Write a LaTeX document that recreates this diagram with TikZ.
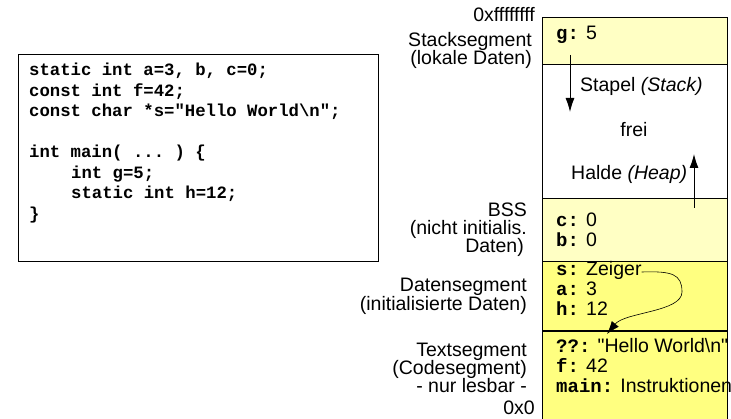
\documentclass[tikz,border=0pt]{standalone}
\usepackage{fontspec}
\setmainfont{Liberation Sans}
\setmonofont{Liberation Mono}
\usetikzlibrary{arrows.meta}
\definecolor{lightyel}{RGB}{255,255,196}
\definecolor{yel}{RGB}{255,255,128}
\newcommand{\cmono}[1]{{\ttfamily\bfseries\fontsize{19}{19}\selectfont #1}}
\begin{document}
\begin{tikzpicture}[x=1pt,y=-1pt,
  lbl/.style={anchor=base east, inner sep=0pt, font=\fontsize{19.5}{19.5}\selectfont},
  cell/.style={anchor=base west, inner sep=0pt, font=\fontsize{19.5}{19.5}\selectfont},
  codeline/.style={anchor=base west, inner sep=0pt, font=\ttfamily\bfseries\fontsize{17.3}{17.3}\selectfont},
  thinline/.style={line width=0.9pt},
  thickline/.style={line width=1.8pt},
  bigarrow/.style={line width=0.9pt, -{Latex[length=14pt,width=9pt]}}]
\useasboundingbox (0,0) rectangle (731,419);
% code box
\node[draw, line width=1pt, minimum width=360pt, minimum height=207pt, inner sep=0pt] (codebox) at (198,158.5) {};
\node[codeline] (code1) at (29,76) {static int a=3, b, c=0;};
\node[codeline] (code2) at (29,96.5) {const int f=42;};
\node[codeline] (code3) at (29,117) {const char *s=\textquotedbl Hello World\textbackslash n\textquotedbl;};
\node[codeline] (code5) at (29,158) {int main( ... ) \{};
\node[codeline] (code6) at (71,178.5) {int g=5;};
\node[codeline] (code7) at (71,199) {static int h=12;};
\node[codeline] (code8) at (29,219.5) {\}};
% memory column
\fill[lightyel] (542,17) rectangle (727,64);
\fill[lightyel] (542,198) rectangle (727,261);
\fill[yel] (542,261) rectangle (727,419);
\draw[thinline] (542,419) -- (542,17) -- (727,17) -- (727,419);
\draw[thinline] (542,64) -- (727,64);
\draw[thinline] (542,198) -- (727,198);
\draw[thinline] (542,261) -- (727,261);
\draw[thickline] (542,331) -- (727,331);
% left labels
\node[lbl] (top) at (535,22) {0xffffffff};
\node[lbl] (st1) at (532,47) {Stacksegment};
\node[lbl] (st2) at (532,65) {(lokale Daten)};
\node[lbl] (bss1) at (527,217) {BSS};
\node[lbl] (bss2) at (527,235) {(nicht initialis.};
\node[lbl] (bss3) at (524,253) {Daten)};
\node[lbl] (ds1) at (527,292) {Datensegment};
\node[lbl] (ds2) at (527,311) {(initialisierte Daten)};
\node[lbl] (ts1) at (527,357) {Textsegment};
\node[lbl] (ts2) at (527,375) {(Codesegment)};
\node[lbl] (ts3) at (527,393) {- nur lesbar -};
\node[lbl] (bot) at (535,415) {0x0};
% cells
\node[cell] (g) at (556,40) {\cmono{g:} 5};
\node[cell] (stapel) at (580,92) {Stapel \textit{(Stack)}};
\node[cell, anchor=base] (frei) at (634,137) {frei};
\node[cell] (halde) at (571,180) {Halde \textit{(Heap)}};
\node[cell] (c) at (556,227) {\cmono{c:} 0};
\node[cell] (b) at (556,247) {\cmono{b:} 0};
\node[cell] (s) at (556,276) {\cmono{s:} Zeiger};
\node[cell] (a) at (556,296) {\cmono{a:} 3};
\node[cell] (h) at (556,316) {\cmono{h:} 12};
\node[cell] (hello) at (556,353) {\cmono{??:} \textquotedbl Hello World\textbackslash n\textquotedbl};
\node[cell] (f) at (556,373) {\cmono{f:} 42};
\node[cell] (main) at (556,393) {\cmono{main:} Instruktionen};
% arrows
\coordinate (dstart) at (570,55);
\coordinate (dend) at (570,112);
\draw[bigarrow] (dstart) -- (dend);
\coordinate (ustart) at (694,208);
\coordinate (uend) at (694,154);
\draw[bigarrow] (ustart) -- (uend);
\coordinate (ptrend) at (607,334);
\draw[line width=0.6pt, -{Latex[length=13pt,width=9pt]}]
  (s.base east) ++(0,-4) .. controls (672,271) and (682,274) .. (682,292)
  .. controls (682,312) and (625,312) .. (ptrend);
\end{tikzpicture}
\end{document}
